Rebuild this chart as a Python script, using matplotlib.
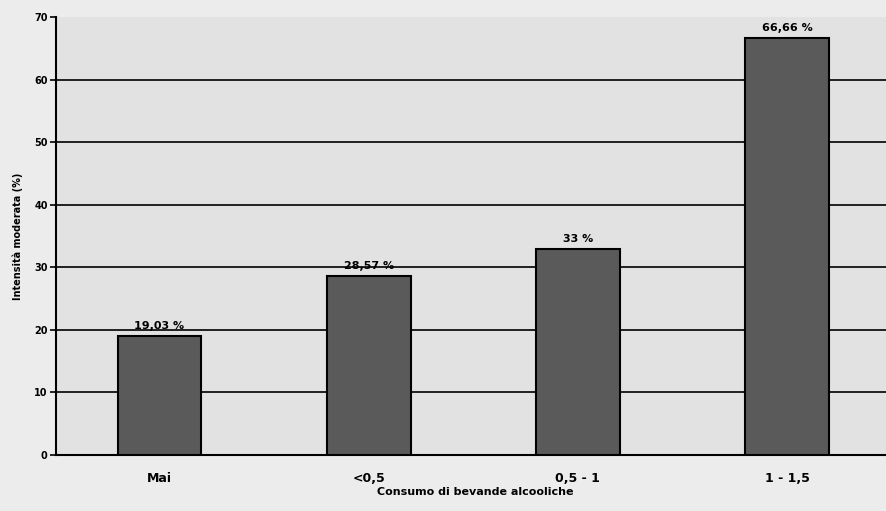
import matplotlib
matplotlib.use("Agg")
import matplotlib.pyplot as plt

categories = ["Mai", "<0,5", "0,5 - 1", "1 - 1,5"]
values = [19.03, 28.57, 33.0, 66.66]
value_labels = ["19,03 %", "28,57 %", "33 %", "66,66 %"]
yticks = [0, 10, 20, 30, 40, 50, 60, 70]

fig = plt.figure(figsize=(8.86, 5.11), dpi=100, facecolor="#ececec")
ax = fig.add_axes([56/886, 1-455/511, 1.0-56/886+0.01, (455-17)/511])
ax.set_facecolor("#e2e2e2")

x = list(range(len(categories)))
ax.bar(x, values, width=0.4, color="#5a5a5a", edgecolor="black", linewidth=1.5, zorder=3)
for xi, v, lab in zip(x, values, value_labels):
    ax.text(xi, v + 0.8, lab, ha="center", va="bottom", fontsize=8, fontweight="bold", zorder=4)

ax.set_xlim(-0.495, 3.515)
ax.set_ylim(0, 70)
ax.set_yticks(yticks)
ax.set_yticklabels([str(t) for t in yticks], fontsize=7, fontweight="bold")
ax.set_xticks(x)
ax.set_xticklabels(categories, fontsize=9, fontweight="bold")
ax.yaxis.grid(True, color="black", linewidth=1.2, zorder=0)
ax.get_ygridlines()[-1].set_visible(False)
ax.set_axisbelow(True)
for s in ["top", "right"]:
    ax.spines[s].set_visible(False)
ax.spines["left"].set_linewidth(1.5)
ax.spines["bottom"].set_linewidth(1.5)
ax.tick_params(axis="x", length=0, pad=12)
ax.tick_params(axis="y", length=4, width=1.2, pad=2)
ax.set_xlabel("Consumo di bevande alcooliche", fontsize=8, fontweight="bold", labelpad=2)
ax.set_ylabel("Intensità moderata (%)", fontsize=7, fontweight="bold", labelpad=8)

fig.savefig("out.png", dpi=100, facecolor=fig.get_facecolor())
